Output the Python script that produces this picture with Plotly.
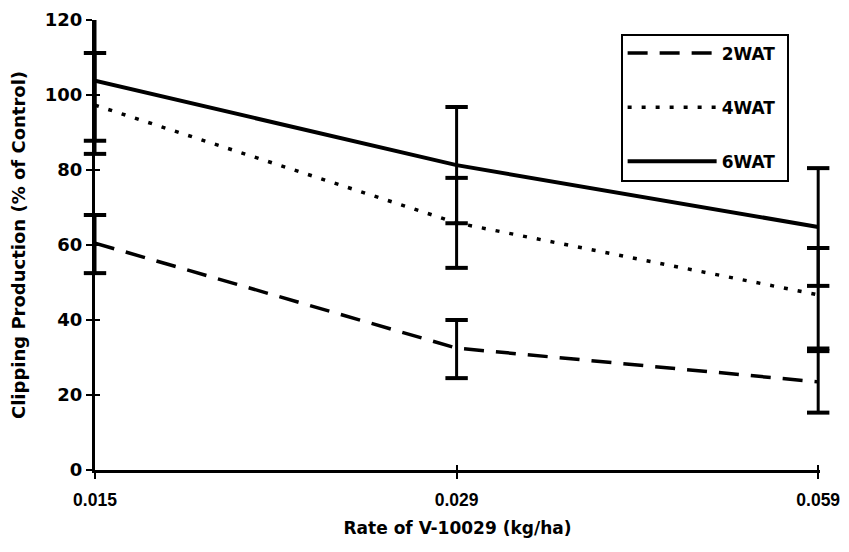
import plotly.graph_objects as go

rates = ["0.015", "0.029", "0.059"]
series_names = ["2WAT", "4WAT", "6WAT"]
wat2 = [60.5, 32.5, 23.5]
wat4 = [97.3, 65.9, 46.7]
wat6 = [103.8, 81.3, 64.8]
err2_plus = [7.5, 7.5, 8.2]
err2_minus = [8.0, 8.0, 8.2]
err4_plus = [13.9, 12.0, 12.5]
err4_minus = [13.0, 12.0, 14.3]
err6_plus = [16.5, 15.5, 15.7]
err6_minus = [16.0, 15.5, 15.7]
y_ticks = [0, 20, 40, 60, 80, 100, 120]

xpos = list(range(len(rates)))
FONT = "DejaVu Sans, Liberation Sans, sans-serif"
NARROW = "Liberation Sans, Arial, sans-serif"

fig = go.Figure()
styles = [
    (wat2, err2_plus, err2_minus, "20px,12px", 3.5),
    (wat4, err4_plus, err4_minus, "4px,10px", 3.5),
    (wat6, err6_plus, err6_minus, "solid", 4),
]
for name, (vals, ep, em, dash, w) in zip(series_names, styles):
    fig.add_trace(go.Scatter(
        x=xpos, y=vals, name=name + "\u00a0", mode="lines",
        line=dict(color="black", width=w, dash=dash),
        error_y=dict(type="data", array=ep, arrayminus=em, symmetric=False,
                     visible=True, color="black", thickness=3, width=0),
        cliponaxis=False, legendgroup=name,
    ))
    # error bar caps (drawn as markers so they are not clipped at the plot edges)
    cap_x, cap_y = [], []
    for xi, v, p, m in zip(xpos, vals, ep, em):
        cap_x += [xi, xi]
        cap_y += [v + p, v - m]
    fig.add_trace(go.Scatter(
        x=cap_x, y=cap_y, mode="markers", showlegend=False, hoverinfo="skip",
        marker=dict(symbol="line-ew", size=16, color="black",
                    line=dict(color="black", width=4)),
        cliponaxis=False,
    ))

# invisible trace on overlay axes carrying the inner halves of the cross ticks
fig.add_trace(go.Scatter(x=[0, 2], y=[0, 120], mode="markers",
                         marker=dict(opacity=0), showlegend=False,
                         hoverinfo="skip", xaxis="x2", yaxis="y2"))

# the page body has an 8px margin on every side; size the figure to fit inside it
fig.update_layout(
    width=833, height=536,
    margin=dict(l=87, r=21, t=12, b=74),
    plot_bgcolor="white", paper_bgcolor="white",
    font=dict(family=FONT, color="black", size=18, weight="bold"),
    xaxis=dict(
        range=[0, 2.005], tickvals=xpos, ticktext=rates, automargin=False,
        showgrid=False, zeroline=False, showline=True, linecolor="black",
        linewidth=2.5, ticks="outside", ticklen=6, tickwidth=2,
        tickcolor="black", tickfont=dict(family=NARROW, size=17.5, weight="bold"),
        ticklabelstandoff=6, ticklabeloverflow="allow",
        title=dict(text="Rate of V-10029 (kg/ha)",
                   font=dict(size=17, weight="bold"), standoff=14),
    ),
    yaxis=dict(
        range=[0, 120], tickvals=y_ticks, automargin=False,
        showgrid=False, zeroline=False, showline=True, linecolor="black",
        linewidth=3, ticks="outside", ticklen=6, tickwidth=2,
        tickcolor="black", tickfont=dict(size=18, weight="bold"),
        title=dict(text="Clipping Production (% of Control)",
                   font=dict(size=18, weight="bold"), standoff=15),
    ),
    xaxis2=dict(range=[0, 2.005], overlaying="x", tickvals=xpos, showticklabels=False,
                ticks="inside", ticklen=5, tickwidth=2, tickcolor="black",
                showgrid=False, zeroline=False, showline=False, automargin=False),
    yaxis2=dict(range=[0, 120], overlaying="y", tickvals=y_ticks, showticklabels=False,
                ticks="inside", ticklen=5, tickwidth=2, tickcolor="black",
                showgrid=False, zeroline=False, showline=False, automargin=False),
    legend=dict(
        x=0.725, y=0.97, xanchor="left", yanchor="top",
        bordercolor="black", borderwidth=2, bgcolor="white",
        font=dict(size=17, weight="bold"), itemwidth=89, tracegroupgap=29,
        traceorder="grouped",
    ),
    showlegend=True,
)

fig.write_html("out.html")
